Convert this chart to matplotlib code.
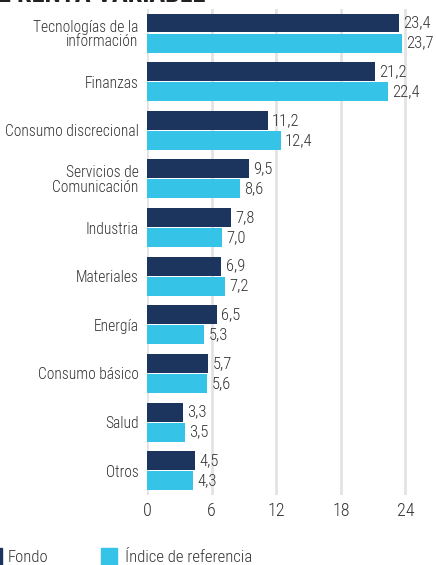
import numpy as np
import matplotlib
matplotlib.use("Agg")
import matplotlib.pyplot as plt
from matplotlib import font_manager as fm
from matplotlib.patches import Rectangle

# fuente estrecha si la hay
names = {f.name for f in fm.fontManager.ttflist}
stretches = {(f.name, f.stretch) for f in fm.fontManager.ttflist}
fam = None
for cand in ['Roboto Condensed', 'Liberation Sans Narrow', 'Open Sans Condensed',
             'Noto Sans Condensed', 'Arial Narrow']:
    if cand in names:
        fam = cand
        break
if fam is None and ('DejaVu Sans', 'condensed') in stretches:
    fam = 'DejaVu Sans'
    plt.rcParams['font.stretch'] = 'condensed'
if fam is None:
    fam = 'Roboto'
plt.rcParams['font.family'] = [fam, 'DejaVu Sans']
plt.rcParams['font.weight'] = 'light'

sectores = ['Tecnologías de la\ninformación', 'Finanzas', 'Consumo discrecional',
            'Servicios de\nComunicación', 'Industria', 'Materiales', 'Energía',
            'Consumo básico', 'Salud', 'Otros']
fondo = [23.4, 21.2, 11.2, 9.5, 7.8, 6.9, 6.5, 5.7, 3.3, 4.5]
indice = [23.7, 22.4, 12.4, 8.6, 7.0, 7.2, 5.3, 5.6, 3.5, 4.3]
ticks = [0, 6, 12, 18, 24]

c_fondo = '#1b355e'
c_indice = '#35c4e8'
c_text = '#333333'

W, H = 436, 565
fig = plt.figure(figsize=(W / 100, H / 100), dpi=100)
ax = fig.add_axes([147 / W, 1 - 495 / H, 280 / W, (495 - 8.7) / H])

y = np.arange(len(sectores))
h = 0.39
off = 0.206
ax.barh(y - off, fondo, height=h, color=c_fondo, zorder=3)
ax.barh(y + off, indice, height=h, color=c_indice, zorder=3)

for yi, v in zip(y, fondo):
    ax.text(v + 0.4, yi - off, f'{v:.1f}'.replace('.', ','), va='center', ha='left',
            fontsize=12, color=c_text)
for yi, v in zip(y, indice):
    ax.text(v + 0.4, yi + off, f'{v:.1f}'.replace('.', ','), va='center', ha='left',
            fontsize=12, color=c_text)

ax.set_xlim(0, 26)
ax.set_ylim(9.5, -0.5)
ax.set_xticks(ticks)
ax.set_xticklabels([str(t) for t in ticks], fontsize=13, color=c_text)
ax.set_yticks(y)
ax.set_yticklabels(sectores, fontsize=11.2, color=c_text, linespacing=0.95)
ax.tick_params(axis='both', length=0)
ax.tick_params(axis='x', pad=5)
ax.tick_params(axis='y', pad=6)
for s in ax.spines.values():
    s.set_visible(False)
ax.grid(axis='x', color='#e3e3e3', linewidth=2, zorder=0)
ax.set_axisbelow(True)

# titulo recortado arriba
fig.text(-2 / W, 1 - 2.5 / H, 'E RENTA VARIABLE', fontsize=19, fontweight='bold',
         color='#222222', ha='left', va='baseline')

# leyenda
fig.patches.append(Rectangle((-10 / W, 1 - 565 / H), 12 / W, 17 / H,
                             transform=fig.transFigure, color=c_fondo))
fig.text(8 / W, 1 - 557 / H, 'Fondo', fontsize=12, color=c_text, va='center')
fig.patches.append(Rectangle((101 / W, 1 - 565 / H), 16 / W, 17 / H,
                             transform=fig.transFigure, color=c_indice))
fig.text(125 / W, 1 - 557 / H, 'Índice de referencia', fontsize=12, color=c_text,
         va='center')

fig.savefig('out.png', dpi=100)
